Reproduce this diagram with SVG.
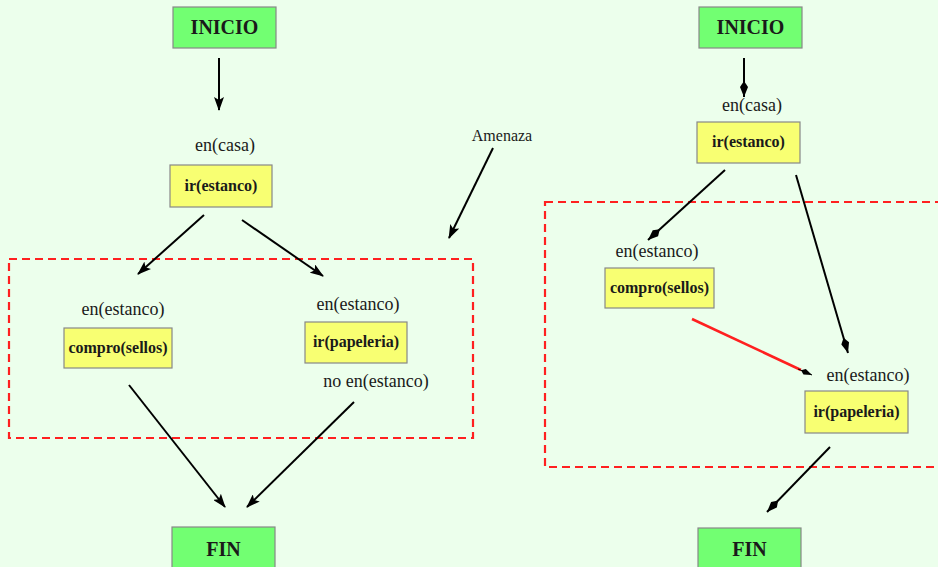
<svg xmlns="http://www.w3.org/2000/svg" width="938" height="567" viewBox="0 0 938 567">
  <style>
    .bg { fill: #ecffec; }
    .start { fill: #72ff72; stroke: #888; stroke-width: 1.2; }
    .act { fill: #f8ff72; stroke: #888; stroke-width: 1.2; }
    .lbl { font-family: "Liberation Serif", "DejaVu Serif", "Times New Roman", serif; fill: #1a1a1a; text-anchor: middle; }
    .big { font-size: 20px; font-weight: bold; }
    .op { font-size: 16px; font-weight: bold; }
    .cond { font-size: 18px; }
    .note { font-size: 16px; }
    .edge { stroke: #000; stroke-width: 2; fill: none; }
    .edge-a { marker-end: url(#head); }
    .edge-k { marker-end: url(#kite); }
    .threat { stroke: #ff2020; stroke-width: 2.5; fill: none; }
    .zone { stroke: #ff2020; stroke-width: 2.2; stroke-dasharray: 8 5; fill: none; }
  </style>
  <defs>
    <marker id="head" viewBox="0 0 14 10" refX="13" refY="5" markerWidth="14" markerHeight="10" markerUnits="userSpaceOnUse" orient="auto">
      <path d="M0,0 L14,5 L0,10 L3,5 z" fill="#000"/>
    </marker>
    <marker id="kite" viewBox="0 0 16 9" refX="16" refY="4.5" markerWidth="16" markerHeight="9" markerUnits="userSpaceOnUse" orient="auto">
      <path d="M0,4.5 L6,0.5 L16,4.5 L6,8.5 z" fill="#000"/>
    </marker>
    <marker id="kite-s" viewBox="0 0 12 7" refX="12" refY="3.5" markerWidth="12" markerHeight="7" markerUnits="userSpaceOnUse" orient="auto">
      <path d="M0,3.5 L4,0.5 L12,3.5 L4,6.5 z" fill="#000"/>
    </marker>
  </defs>

  <rect class="bg" x="0" y="0" width="938" height="567"/>

  <!-- left plan: threatened zone -->
  <rect class="zone" x="9" y="259" width="464" height="179"/>
  <!-- right plan: threatened zone (runs off the right edge) -->
  <rect class="zone" x="545" y="202" width="400" height="265"/>

  <g id="connectors">
    <!-- left plan -->
    <line class="edge edge-a" x1="219" y1="58" x2="219" y2="110"/>
    <line class="edge edge-a" x1="204" y1="215" x2="138" y2="274"/>
    <line class="edge edge-a" x1="242" y1="220" x2="323" y2="276"/>
    <line class="edge edge-a" x1="129" y1="385" x2="225" y2="507"/>
    <line class="edge edge-a" x1="354" y1="402" x2="247" y2="507"/>
    <line class="edge edge-a" x1="493" y1="148" x2="449" y2="238"/>
    <!-- right plan -->
    <line class="edge edge-k" x1="744" y1="58" x2="744" y2="97"/>
    <line class="edge edge-k" x1="725" y1="170" x2="648" y2="240"/>
    <line class="edge edge-k" x1="796" y1="175" x2="848" y2="353"/>
    <line class="threat" x1="692" y1="319" x2="801" y2="370"/>
    <line style="stroke:#000;stroke-width:1;marker-end:url(#kite-s)" x1="798" y1="369" x2="812" y2="375"/>
    <line class="edge edge-k" x1="830" y1="447" x2="767" y2="512"/>
  </g>

  <!-- left plan nodes -->
  <g id="inicio-1">
    <rect class="start" x="173" y="7" width="103" height="41"/>
    <text class="lbl big" x="224.5" y="34">INICIO</text>
  </g>
  <g id="ir-estanco-1">
    <text class="lbl cond" x="225" y="151">en(casa)</text>
    <rect class="act" x="170" y="165" width="102" height="42"/>
    <text class="lbl op" x="221" y="191">ir(estanco)</text>
  </g>
  <g id="compro-sellos-1">
    <text class="lbl cond" x="123" y="315">en(estanco)</text>
    <rect class="act" x="64" y="328" width="108" height="40"/>
    <text class="lbl op" x="118" y="353">compro(sellos)</text>
  </g>
  <g id="ir-papeleria-1">
    <text class="lbl cond" x="358" y="310">en(estanco)</text>
    <rect class="act" x="305" y="322" width="102" height="41"/>
    <text class="lbl op" x="356" y="347">ir(papeleria)</text>
    <text class="lbl cond" x="376" y="387">no en(estanco)</text>
  </g>
  <g id="amenaza">
    <text class="lbl note" x="502" y="141">Amenaza</text>
  </g>
  <g id="fin-1">
    <rect class="start" x="172" y="527" width="103" height="45"/>
    <text class="lbl big" x="223.5" y="556">FIN</text>
  </g>

  <!-- right plan nodes -->
  <g id="inicio-2">
    <rect class="start" x="699" y="7" width="103" height="41"/>
    <text class="lbl big" x="750.5" y="34">INICIO</text>
  </g>
  <g id="ir-estanco-2">
    <text class="lbl cond" x="752" y="111">en(casa)</text>
    <rect class="act" x="697" y="122" width="103" height="41"/>
    <text class="lbl op" x="748.5" y="147">ir(estanco)</text>
  </g>
  <g id="compro-sellos-2">
    <text class="lbl cond" x="657" y="257">en(estanco)</text>
    <rect class="act" x="605" y="268" width="109" height="40"/>
    <text class="lbl op" x="659.5" y="293">compro(sellos)</text>
  </g>
  <g id="ir-papeleria-2">
    <text class="lbl cond" x="868" y="381">en(estanco)</text>
    <rect class="act" x="805" y="391" width="103" height="42"/>
    <text class="lbl op" x="856.5" y="417">ir(papeleria)</text>
  </g>
  <g id="fin-2">
    <rect class="start" x="698" y="528" width="103" height="45"/>
    <text class="lbl big" x="749.5" y="556">FIN</text>
  </g>
</svg>
